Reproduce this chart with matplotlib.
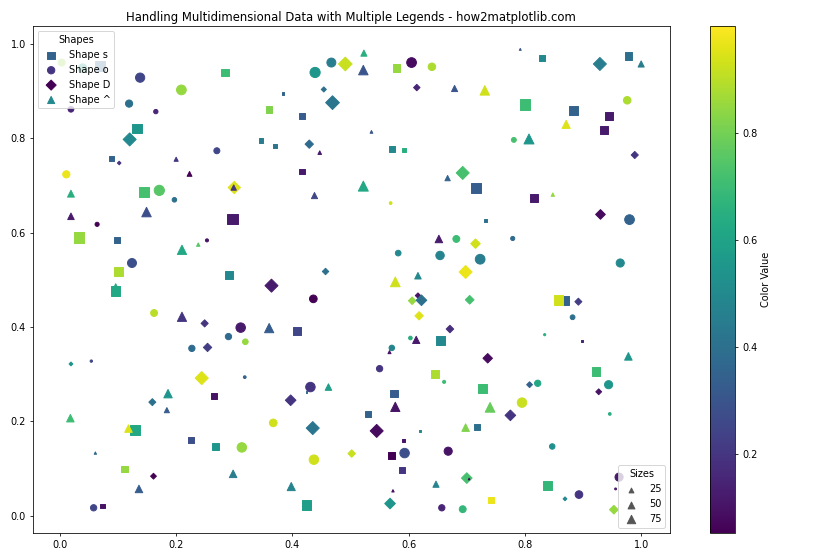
import matplotlib
matplotlib.use("Agg")
import matplotlib.pyplot as plt

# ---------------- data ----------------
sq_x = [0.089, 0.069, 0.284, 0.133, 0.144, 0.579, 0.384, 0.360, 0.416, 0.346, 0.370, 0.571, 0.592, 0.416,
        0.830, 0.978, 0.800, 0.883, 0.945, 0.936, 0.716, 0.816, 0.297, 0.033, 0.098, 0.101, 0.291, 0.096,
        0.408, 0.655, 0.732, 0.868, 0.858, 0.898, 0.265, 0.130, 0.225, 0.267, 0.111, 0.073, 0.424, 0.645,
        0.575, 0.530, 0.619, 0.591, 0.571, 0.588, 0.424, 0.922, 0.727, 0.718, 0.839, 0.742]
sq_y = [0.757, 0.954, 0.940, 0.821, 0.687, 0.950, 0.895, 0.862, 0.847, 0.795, 0.784, 0.777, 0.776, 0.730,
        0.970, 0.975, 0.872, 0.859, 0.847, 0.818, 0.695, 0.674, 0.629, 0.590, 0.585, 0.518, 0.510, 0.477,
        0.392, 0.372, 0.627, 0.456, 0.458, 0.371, 0.254, 0.181, 0.160, 0.147, 0.099, 0.021, 0.262, 0.301,
        0.259, 0.216, 0.180, 0.159, 0.128, 0.097, 0.023, 0.306, 0.270, 0.189, 0.065, 0.033]
sq_s = [25, 100, 64, 95, 110, 62, 8, 45, 36, 25, 25, 36, 22, 36,
        36, 62, 115, 80, 62, 80, 115, 70, 110, 110, 42, 72, 62, 95,
        62, 85, 10, 95, 95, 3, 36, 105, 42, 50, 42, 20, 3, 72,
        62, 42, 6, 10, 50, 42, 90, 72, 72, 40, 85, 34]
sq_c = [0.35, 0.35, 0.70, 0.55, 0.72, 0.85, 0.35, 0.82, 0.33, 0.45, 0.42, 0.50, 0.65, 0.12,
        0.50, 0.40, 0.70, 0.35, 0.12, 0.12, 0.33, 0.12, 0.12, 0.85, 0.35, 0.88, 0.50, 0.62,
        0.25, 0.50, 0.40, 0.35, 0.93, 0.15, 0.10, 0.62, 0.28, 0.55, 0.85, 0.10, 0.38, 0.88,
        0.33, 0.35, 0.50, 0.10, 0.05, 0.20, 0.58, 0.70, 0.70, 0.40, 0.68, 0.97]

ci_x = [0.550, 0.003, 0.039, 0.019, 0.138, 0.209, 0.119, 0.165, 0.270, 0.011, 0.171, 0.197, 0.467, 0.439,
        0.605, 0.640, 0.976, 0.781, 0.064, 0.253, 0.124, 0.162, 0.311, 0.290, 0.227, 0.054, 0.569, 0.582,
        0.654, 0.436, 0.319, 0.603, 0.571, 0.980, 0.682, 0.779, 0.723, 0.964, 0.882, 0.834, 0.313, 0.318,
        0.661, 0.431, 0.367, 0.437, 0.593, 0.668, 0.657, 0.822, 0.944, 0.795, 0.946, 0.847, 0.893, 0.693,
        0.962, 0.956, 0.058]
ci_y = [0.312, 0.961, 0.949, 0.862, 0.929, 0.903, 0.874, 0.857, 0.774, 0.724, 0.690, 0.670, 0.961, 0.940,
        0.961, 0.952, 0.881, 0.797, 0.618, 0.584, 0.536, 0.430, 0.399, 0.380, 0.355, 0.328, 0.663, 0.557,
        0.552, 0.460, 0.369, 0.377, 0.356, 0.628, 0.587, 0.588, 0.544, 0.536, 0.421, 0.384, 0.145, 0.294,
        0.284, 0.273, 0.197, 0.119, 0.133, 0.137, 0.017, 0.281, 0.278, 0.240, 0.216, 0.147, 0.045, 0.014,
        0.082, 0.057, 0.017]
ci_s = [42, 52, 80, 35, 90, 100, 55, 20, 38, 55, 110, 22, 85, 110,
        100, 60, 60, 25, 18, 10, 85, 50, 95, 42, 42, 6, 8, 34,
        75, 62, 34, 14, 32, 100, 50, 18, 100, 70, 24, 5, 95, 8,
        10, 95, 62, 95, 95, 70, 42, 42, 70, 95, 8, 32, 62, 50,
        70, 4, 42]
ci_c = [0.20, 0.85, 0.60, 0.15, 0.25, 0.85, 0.40, 0.15, 0.25, 0.97, 0.75, 0.40, 0.45, 0.55,
        0.08, 0.88, 0.88, 0.72, 0.05, 0.10, 0.28, 0.90, 0.12, 0.38, 0.38, 0.25, 0.93, 0.50,
        0.48, 0.05, 0.85, 0.65, 0.48, 0.35, 0.70, 0.38, 0.45, 0.50, 0.40, 0.65, 0.85, 0.35,
        0.70, 0.20, 0.93, 0.93, 0.28, 0.10, 0.15, 0.62, 0.55, 0.92, 0.65, 0.52, 0.20, 0.68,
        0.12, 0.12, 0.25]

di_x = [0.161, 0.120, 0.102, 0.300, 0.491, 0.614, 0.454, 0.469, 0.429, 0.929, 0.989, 0.693, 0.249, 0.254,
        0.019, 0.457, 0.364, 0.616, 0.606, 0.622, 0.618, 0.671, 0.930, 0.715, 0.698, 0.892, 0.705, 0.736,
        0.244, 0.159, 0.397, 0.435, 0.545, 0.502, 0.568, 0.808, 0.927, 0.775, 0.700, 0.869, 0.953]
di_y = [0.084, 0.798, 0.748, 0.696, 0.958, 0.908, 0.904, 0.876, 0.788, 0.958, 0.765, 0.727, 0.408, 0.357,
        0.322, 0.518, 0.488, 0.467, 0.456, 0.457, 0.424, 0.396, 0.639, 0.577, 0.517, 0.454, 0.458, 0.334,
        0.292, 0.241, 0.245, 0.186, 0.180, 0.132, 0.026, 0.278, 0.263, 0.213, 0.080, 0.036, 0.013]
di_s = [18, 90, 7, 80, 100, 22, 14, 100, 37, 90, 27, 90, 27, 37,
        8, 22, 90, 15, 30, 60, 37, 30, 50, 48, 90, 26, 40, 48,
        90, 26, 60, 90, 90, 30, 60, 18, 18, 60, 60, 8, 40]
di_c = [0.05, 0.50, 0.20, 0.95, 0.92, 0.15, 0.40, 0.42, 0.38, 0.45, 0.20, 0.72, 0.20, 0.22,
        0.55, 0.40, 0.12, 0.10, 0.85, 0.40, 0.95, 0.18, 0.08, 0.93, 0.97, 0.22, 0.72, 0.08,
        0.95, 0.40, 0.20, 0.42, 0.08, 0.92, 0.55, 0.35, 0.10, 0.20, 0.72, 0.50, 0.85]

tr_x = [0.616, 0.200, 0.223, 0.019, 0.299, 0.523, 0.522, 0.536, 0.447, 0.522, 0.667, 0.438, 0.792, 1.000,
        0.679, 0.731, 0.871, 0.807, 0.848, 0.019, 0.149, 0.238, 0.210, 0.096, 0.210, 0.652, 0.577, 0.360,
        0.613, 0.567, 0.978, 0.186, 0.184, 0.018, 0.118, 0.061, 0.298, 0.136, 0.462, 0.577, 0.398, 0.573,
        0.647, 0.740, 0.698, 0.704]
tr_y = [0.509, 0.756, 0.725, 0.683, 0.696, 0.981, 0.945, 0.814, 0.770, 0.699, 0.716, 0.679, 0.989, 0.958,
        0.906, 0.902, 0.830, 0.799, 0.681, 0.635, 0.644, 0.575, 0.564, 0.484, 0.422, 0.587, 0.496, 0.398,
        0.373, 0.347, 0.338, 0.259, 0.224, 0.207, 0.185, 0.133, 0.089, 0.057, 0.273, 0.231, 0.062, 0.053,
        0.067, 0.230, 0.187, 0.078]
tr_s = [45, 18, 25, 50, 30, 40, 95, 8, 14, 105, 30, 40, 4, 40,
        40, 95, 70, 105, 12, 45, 95, 12, 90, 60, 90, 60, 100, 90,
        55, 10, 60, 75, 28, 60, 60, 6, 60, 60, 45, 90, 70, 6,
        40, 100, 60, 3]
tr_c = [0.50, 0.20, 0.05, 0.65, 0.20, 0.65, 0.30, 0.30, 0.12, 0.62, 0.35, 0.25, 0.30, 0.45,
        0.30, 0.93, 0.95, 0.55, 0.85, 0.12, 0.28, 0.75, 0.62, 0.62, 0.20, 0.12, 0.93, 0.33,
        0.12, 0.10, 0.55, 0.55, 0.33, 0.70, 0.95, 0.38, 0.45, 0.33, 0.58, 0.10, 0.48, 0.08,
        0.48, 0.78, 0.82, 0.05]

markers = ['s', 'o', 'D', '^']
series = [(sq_x, sq_y, sq_s, sq_c), (ci_x, ci_y, ci_s, ci_c),
          (di_x, di_y, di_s, di_c), (tr_x, tr_y, tr_s, tr_c)]
size_labels = [25, 50, 75]

# ---------------- plot ----------------
fig, ax = plt.subplots(figsize=(12, 8), dpi=70)
sc = None
for m, (x, y, s, c) in zip(markers, series):
    sc = ax.scatter(x, y, s=s, c=c, cmap='viridis', vmin=0.054, vmax=0.998,
                    marker=m, label=f'Shape {m}')

legend1 = ax.legend(title='Shapes', loc='upper left')
ax.add_artist(legend1)

size_handles = [ax.scatter([], [], s=v, marker='^', color='#555555') for v in size_labels]
ax.legend(size_handles, [str(v) for v in size_labels], title='Sizes', loc='lower right')

cbar = fig.colorbar(sc, ax=ax)
cbar.set_label('Color Value')

ax.set_title('Handling Multidimensional Data with Multiple Legends - how2matplotlib.com')
fig.tight_layout()
fig.savefig('out.png', dpi=70)
